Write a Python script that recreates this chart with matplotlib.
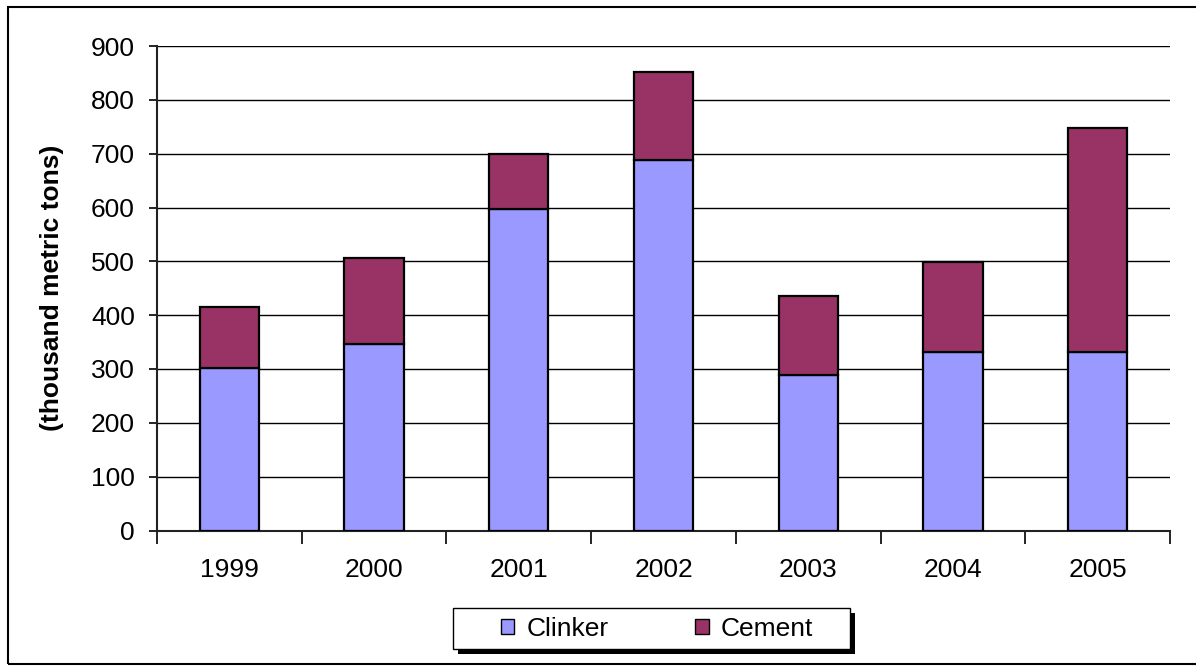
import numpy as np
import matplotlib.pyplot as plt
from matplotlib.patches import Rectangle

plt.rcParams['font.family'] = ['Liberation Sans', 'DejaVu Sans']

# ── Data ─────────────────────────────────────────────────────────────────────
years = ['1999', '2000', '2001', '2002', '2003', '2004', '2005']
clinker = [302, 347, 598, 688, 288, 332, 332]
cement = [113, 159, 102, 164, 147, 166, 415]

CLINKER_COLOR = '#9999FF'
CEMENT_COLOR = '#993366'

W, H = 1196, 667
fig = plt.figure(figsize=(W / 100, H / 100), dpi=100)
ax = fig.add_axes([157/W, 1 - 530.5/H, (1170-157)/W, (530.5-46)/H])

x = np.arange(len(years))
w = 0.41
ax.bar(x, clinker, w, color=CLINKER_COLOR, edgecolor='black', linewidth=1.6,
       label='Clinker', zorder=3)
ax.bar(x, cement, w, bottom=clinker, color=CEMENT_COLOR, edgecolor='black',
       linewidth=1.6, label='Cement', zorder=3)

ax.set_xlim(-0.5, len(years) - 0.5)
ax.set_ylim(0, 900)
ax.set_yticks(range(0, 901, 100))
ax.yaxis.grid(True, color='black', linewidth=1.0, zorder=0)

ax.set_xticks(x)
ax.set_xticklabels(years)
ax.set_xticks(np.arange(-0.5, len(years)), minor=True)
ax.tick_params(axis='x', which='major', length=0, pad=20, labelsize=19)
ax.tick_params(axis='x', which='minor', length=9, width=1.2, direction='out')
ax.tick_params(axis='y', length=6, width=1.2, direction='out', pad=10, labelsize=19)

for side in ['top', 'right']:
    ax.spines[side].set_visible(False)
for side in ['left', 'bottom']:
    ax.spines[side].set_linewidth(1.5)
    ax.spines[side].set_color('#222222')

ax.set_ylabel('(thousand metric tons)', fontsize=19, fontweight='bold', labelpad=19)

# legend frame with drop shadow (drawn by hand so it can be wider than the entries)
lx0, lx1, ly0, ly1 = 453, 850, 608, 649
fig.patches.append(Rectangle(((lx0 + 5)/W, 1 - (ly1 + 5)/H), (lx1 - lx0)/W, (ly1 - ly0)/H,
                             transform=fig.transFigure, facecolor='black', edgecolor='none',
                             zorder=1))
fig.patches.append(Rectangle((lx0/W, 1 - ly1/H), (lx1 - lx0)/W, (ly1 - ly0)/H,
                             transform=fig.transFigure, facecolor='white', edgecolor='black',
                             linewidth=1.0, zorder=2))

leg = fig.legend(*ax.get_legend_handles_labels(), loc='center',
                 bbox_to_anchor=(657/W, 1 - 628.5/H), ncol=2, frameon=False,
                 fontsize=19, handlelength=0.5, handleheight=0.5, handletextpad=0.45,
                 columnspacing=3.3, borderpad=0.2)
leg.set_zorder(3)
for h in leg.legend_handles:
    h.set_edgecolor('black')
    h.set_linewidth(1.0)

# outer chart border
fig.patches.append(Rectangle((8/W, 3/H), 1.1, (664-7)/H, transform=fig.transFigure,
                             fill=False, edgecolor='black', linewidth=1.5))

fig.savefig('out.png', dpi=100)
